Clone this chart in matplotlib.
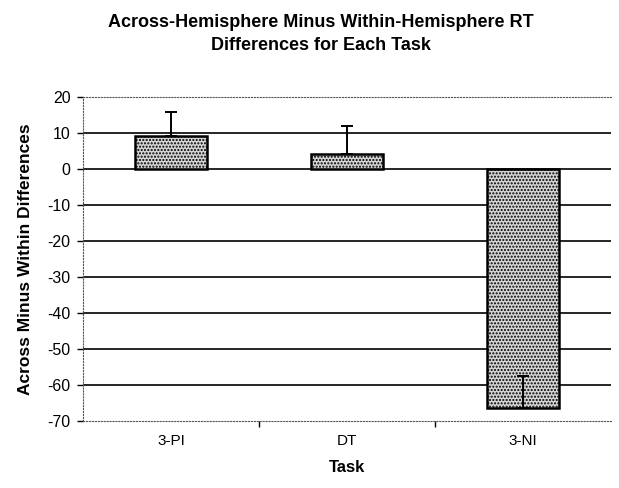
import matplotlib.pyplot as plt
import numpy as np

# values
tasks = ['3-PI', 'DT', '3-NI']
diffs = [9.2, 4.1, -66.4]
err_up = [6.7, 7.8, 8.9]

yticks = list(range(-70, 21, 10))

plt.rcParams['font.family'] = ['Liberation Sans', 'DejaVu Sans']
plt.rcParams['hatch.color'] = '#9a9a9a'
plt.rcParams['axes.unicode_minus'] = False

fig = plt.figure(figsize=(6.19, 4.88), dpi=100)
ax = fig.add_axes([0.134, 0.137, 0.853, 0.664])

x = np.arange(len(tasks))
for y in yticks[1:-1]:
    ax.axhline(y, color='black', lw=1.2, zorder=1)

ax.bar(x, diffs, width=0.41, color='#d4d4d4', edgecolor='black', lw=1.8,
       hatch='.....', zorder=2)
ax.errorbar(x, diffs, yerr=[[0] * len(tasks), err_up], fmt='none',
            ecolor='black', elinewidth=1.4, capsize=4, capthick=1.4, zorder=3)

ax.set_xlim(-0.5, len(tasks) - 0.5)
ax.set_ylim(-70, 20)
ax.set_yticks(yticks)
ax.set_xticks(x)
ax.set_xticklabels(tasks, fontsize=11)
ax.set_xticks(np.arange(0.5, len(tasks) - 1, 1), minor=True)
ax.tick_params(axis='x', which='major', length=0, pad=9)
ax.tick_params(axis='x', which='minor', length=4, width=1, direction='out')
ax.tick_params(axis='y', length=4, width=1, labelsize=11.5, pad=5)

for s in ['top', 'bottom', 'left', 'right']:
    ax.spines[s].set_linestyle(':')
    ax.spines[s].set_color('#555555')
ax.spines['right'].set_visible(False)

ax.set_xlabel('Task', fontsize=12, fontweight='bold', labelpad=9)
ax.set_ylabel('Across Minus Within Differences', fontsize=12.5,
              fontweight='bold', labelpad=10)
fig.suptitle('Across-Hemisphere Minus Within-Hemisphere RT\nDifferences for Each Task',
             x=0.518, y=0.972, fontsize=13, fontweight='bold', linespacing=1.5)

fig.savefig('out.png')
